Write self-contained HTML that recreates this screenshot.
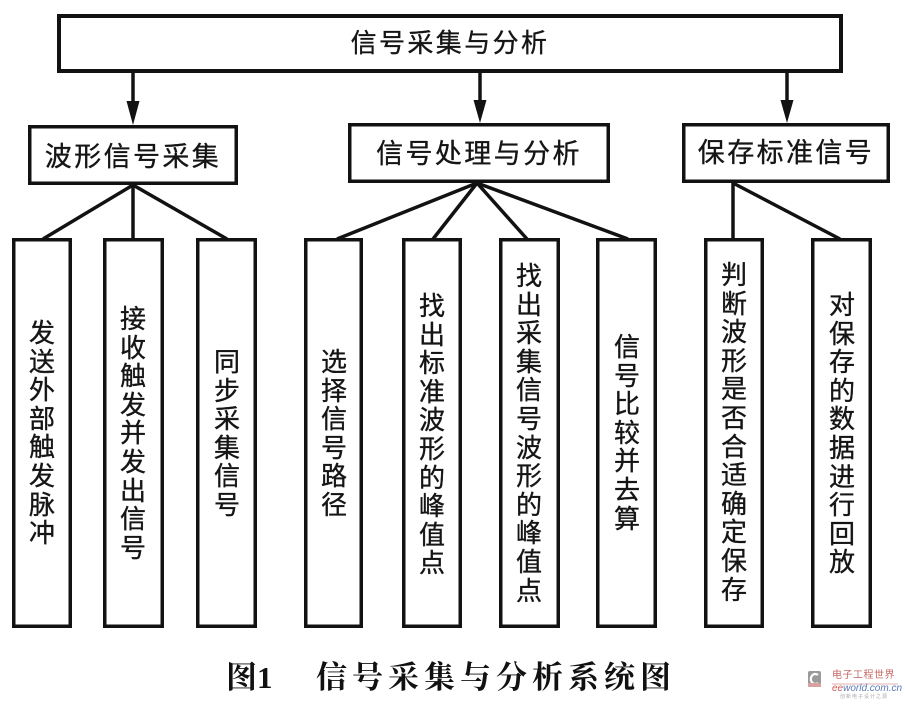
<!DOCTYPE html>
<html>
<head>
<meta charset="utf-8">
<style>
  html,body{margin:0;padding:0;background:#fff;}
  #c{position:relative;width:905px;height:706px;overflow:hidden;background:#fff;}
  svg{position:absolute;left:0;top:0;}
  .t{position:absolute;font-family:"Liberation Sans","Noto Sans CJK SC",sans-serif;color:#151515;white-space:nowrap;}
  .h{font-size:26px;line-height:30px;letter-spacing:2.4px;text-align:center;-webkit-text-stroke:0.35px #151515;}
  .v{position:absolute;font-family:"Liberation Sans","Noto Sans CJK SC",sans-serif;color:#151515;font-size:26px;line-height:28.6px;width:30px;text-align:center;word-break:break-all;-webkit-text-stroke:0.35px #151515;}
  .cap{position:absolute;font-family:"Liberation Serif","Noto Serif CJK SC",serif;font-weight:700;color:#111;font-size:31px;line-height:34px;white-space:nowrap;}
</style>
</head>
<body>
<div id="c">
<svg width="905" height="706" viewBox="0 0 905 706">
  <g fill="none" stroke="#121212">
    <rect x="59" y="16" width="782" height="55" stroke-width="4"/>
    <rect x="29.75" y="126.75" width="206.5" height="56.5" stroke-width="3.5"/>
    <rect x="349.75" y="124.75" width="258.5" height="56.5" stroke-width="3.5"/>
    <rect x="683.75" y="124.75" width="204.5" height="56.5" stroke-width="3.5"/>
    <rect x="13.75" y="239.75" width="56.5" height="386.5" stroke-width="3.5"/>
    <rect x="104.75" y="239.75" width="57.5" height="386.5" stroke-width="3.5"/>
    <rect x="197.75" y="239.75" width="57.5" height="386.5" stroke-width="3.5"/>
    <rect x="305.75" y="239.75" width="55.5" height="386.5" stroke-width="3.5"/>
    <rect x="403.75" y="239.75" width="56.5" height="386.5" stroke-width="3.5"/>
    <rect x="500.75" y="239.75" width="57.5" height="386.5" stroke-width="3.5"/>
    <rect x="597.75" y="239.75" width="57.5" height="386.5" stroke-width="3.5"/>
    <rect x="705.75" y="239.75" width="56.5" height="386.5" stroke-width="3.5"/>
    <rect x="812.75" y="239.75" width="57.5" height="386.5" stroke-width="3.5"/>
    <line x1="133" y1="73" x2="133" y2="104" stroke-width="3.5"/>
    <line x1="480" y1="73" x2="480" y2="104" stroke-width="3.5"/>
    <line x1="787" y1="73" x2="787" y2="104" stroke-width="3.5"/>
    <line x1="133" y1="185" x2="43" y2="239" stroke-width="3.5"/>
    <line x1="133" y1="185" x2="133" y2="239" stroke-width="3.5"/>
    <line x1="133" y1="185" x2="227" y2="239" stroke-width="3.5"/>
    <line x1="477" y1="183" x2="337" y2="239" stroke-width="3.5"/>
    <line x1="477" y1="183" x2="433" y2="239" stroke-width="3.5"/>
    <line x1="477" y1="183" x2="527" y2="239" stroke-width="3.5"/>
    <line x1="477" y1="183" x2="628" y2="239" stroke-width="3.5"/>
    <line x1="733" y1="183" x2="733" y2="239" stroke-width="3.5"/>
    <line x1="733" y1="183" x2="840" y2="239" stroke-width="3.5"/>
  </g>
  <g fill="#121212">
    <polygon points="126.5,101 139.5,101 133,125"/>
    <polygon points="473.5,100 486.5,100 480,123"/>
    <polygon points="780.5,100 793.5,100 787,123"/>
  </g>
  <g>
    <rect x="808" y="671" width="13" height="16" rx="2" fill="#9a9a9a"/>
    <path d="M818 675 A4.5 5 0 1 0 818 683" fill="none" stroke="#fff" stroke-width="2.2"/>
    <rect x="808" y="683" width="13" height="4" fill="#d9a0a0"/>
    <line x1="832" y1="684" x2="898" y2="684" stroke="#e2b0b0" stroke-width="1"/>
  </g>
</svg>

<div class="t h" style="left:57px;width:786px;top:28px;">信号采集与分析</div>
<div class="t h" style="left:28px;width:210px;top:142px;font-size:27px;">波形信号采集</div>
<div class="t h" style="left:348px;width:262px;top:139px;font-size:27px;">信号处理与分析</div>
<div class="t h" style="left:682px;width:208px;top:138px;font-size:27px;">保存标准信号</div>

<div class="v" style="left:27px;top:319px;">发送外部触发脉冲</div>
<div class="v" style="left:118px;top:305px;">接收触发并发出信号</div>
<div class="v" style="left:212px;top:348px;">同步采集信号</div>
<div class="v" style="left:319px;top:348px;">选择信号路径</div>
<div class="v" style="left:417px;top:292px;">找出标准波形的峰值点</div>
<div class="v" style="left:514px;top:262px;">找出采集信号波形的峰值点</div>
<div class="v" style="left:612px;top:333px;">信号比较并去算</div>
<div class="v" style="left:719px;top:261px;">判断波形是否合适确定保存</div>
<div class="v" style="left:827px;top:291px;">对保存的数据进行回放</div>

<div class="cap" style="left:226px;top:661px;">图1</div>
<div class="cap" style="left:316px;top:661px;letter-spacing:5px;">信号采集与分析系统图</div>

<div class="t" style="left:832px;top:670px;font-size:10px;line-height:12px;color:#c46a66;letter-spacing:0.5px;">电子工程世界</div>
<div class="t" style="left:832px;top:683px;font-size:10px;line-height:11px;font-style:italic;color:#5a78b8;"><span style="color:#d05a5a;">ee</span>world.com.cn</div>
<div class="t" style="left:840px;top:694px;font-size:5px;line-height:6px;color:#aaa;letter-spacing:1px;">创新电子设计之源</div>
</div>
</body>
</html>
